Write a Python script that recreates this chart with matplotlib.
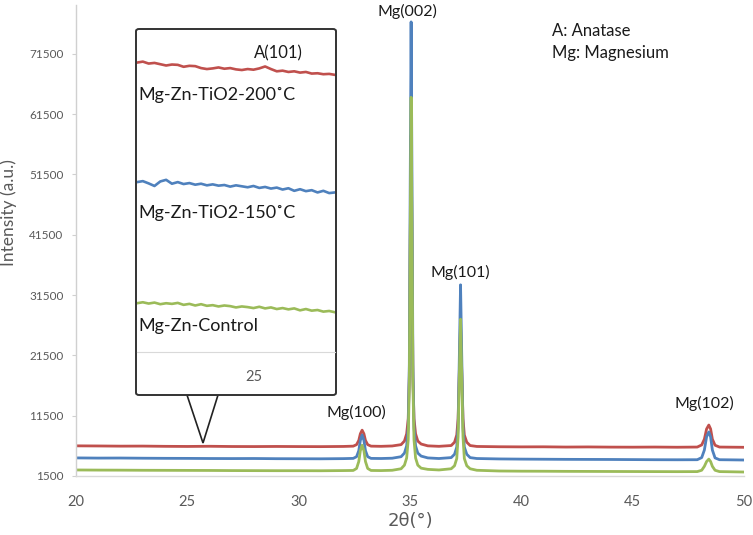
import matplotlib
matplotlib.use("Agg")
import matplotlib.pyplot as plt
from matplotlib.patches import FancyBboxPatch, Polygon

plt.rcParams['font.family'] = ['Lato', 'DejaVu Sans']

# ---------------- data ----------------
two_theta = [20, 21, 22, 23, 24, 25, 26, 27, 28, 29, 30, 31, 32,
             32.45, 32.6, 32.7, 32.77, 32.85, 32.93, 33.0, 33.1, 33.25,
             33.7, 34.2,
             34.6, 34.75, 34.85, 34.92, 34.97, 35.01, 35.05, 35.09, 35.13, 35.18, 35.25, 35.35, 35.5, 35.8,
             36.3,
             36.85, 37.0, 37.1, 37.16, 37.21, 37.27, 37.33, 37.38, 37.44, 37.55, 37.7, 38.0,
             39, 40, 41, 42, 43, 44, 45, 46, 47,
             47.9, 48.1, 48.22, 48.32, 48.42, 48.5, 48.58, 48.7, 48.9,
             49.4, 50]

red_200C = [6500, 6480, 6450, 6460, 6420, 6400, 6430, 6390, 6380, 6400, 6380, 6370, 6400,
            6450, 6700, 7400, 8500, 9100, 8500, 7400, 6700, 6450,
            6420, 6480,
            6700, 7300, 8500, 11000, 18000, 40000, 58000, 40000, 18000, 11000, 8500, 7300, 6800, 6500,
            6420,
            6550, 7100, 8300, 11000, 18000, 26500, 18000, 11000, 8300, 7100, 6550, 6400,
            6350, 6330, 6340, 6300, 6320, 6290, 6280, 6300, 6270,
            6300, 6650, 7600, 9300, 9950, 9300, 7600, 6600, 6300,
            6280, 6260]

blue_150C = [4500, 4470, 4480, 4450, 4430, 4420, 4400, 4390, 4400, 4370, 4360, 4350, 4380,
             4420, 4700, 5700, 7400, 8300, 7400, 5700, 4700, 4420,
             4400, 4450,
             4700, 5300, 6500, 9500, 20000, 50000, 76800, 50000, 20000, 9500, 6500, 5300, 4800, 4500,
             4400,
             4550, 5100, 6300, 9500, 20000, 33200, 20000, 9500, 6300, 5100, 4550, 4400,
             4330, 4300, 4280, 4260, 4250, 4240, 4220, 4200, 4190,
             4200, 4550, 5800, 8000, 8800, 8000, 5800, 4500, 4200,
             4180, 4150]

green_control = [2500, 2480, 2470, 2450, 2440, 2430, 2420, 2400, 2390, 2380, 2380, 2370, 2400,
                 2420, 2750, 3900, 5700, 6600, 5700, 3900, 2750, 2420,
                 2400, 2450,
                 2700, 3300, 4500, 7500, 17000, 42000, 64300, 42000, 17000, 7500, 4500, 3300, 2800, 2600,
                 2500,
                 2700, 3200, 4400, 8000, 17000, 27500, 17000, 8000, 4400, 3200, 2700, 2450,
                 2330, 2300, 2290, 2270, 2260, 2250, 2240, 2230, 2220,
                 2230, 2450, 3100, 3900, 4300, 3900, 3100, 2450, 2230,
                 2200, 2160]

y_ticks = [1500, 11500, 21500, 31500, 41500, 51500, 61500, 71500]
x_ticks = [20, 25, 30, 35, 40, 45, 50]

# inset (zoom near the anatase A(101) position, arbitrary offset units)
inset_theta = [24.00, 24.05, 24.10, 24.15, 24.20, 24.25, 24.30, 24.35, 24.40, 24.45,
               24.50, 24.55, 24.60, 24.65, 24.70, 24.75, 24.80, 24.85, 24.90, 24.95,
               25.00, 25.05, 25.10, 25.15, 25.20, 25.25, 25.30, 25.35, 25.40, 25.45,
               25.50, 25.55, 25.60, 25.65, 25.70]
inset_red = [89.6, 89.9, 89.3, 89.5, 89.1, 88.7, 89.0, 88.9, 88.3, 88.6,
             88.5, 87.9, 87.6, 87.8, 88.1, 87.7, 87.9, 87.5, 87.3, 87.6,
             87.4, 87.8, 88.4, 87.6, 86.9, 87.1, 86.7, 86.9, 86.5, 86.7,
             86.2, 86.3, 86.0, 86.1, 85.8]
inset_blue = [52.6, 52.9, 52.2, 51.4, 52.8, 53.3, 52.1, 52.6, 52.0, 52.3,
              51.8, 52.1, 51.6, 51.9, 51.5, 51.7, 51.2, 51.6, 51.3, 51.0,
              51.4, 50.8, 51.1, 50.6, 50.9, 50.3, 50.7, 49.9, 50.4, 49.8,
              50.1, 49.4, 49.9, 49.2, 49.4]
inset_green = [15.1, 15.4, 15.0, 15.3, 14.8, 15.1, 14.9, 15.2, 14.6, 14.9,
               14.4, 14.8, 14.3, 14.5, 14.1, 14.4, 14.2, 13.8, 14.1, 13.9,
               13.6, 14.0, 13.5, 13.8, 13.3, 13.6, 13.2, 13.5, 12.9, 13.3,
               12.8, 13.0, 12.5, 12.7, 12.3]
inset_ticks = [25]

series_labels = ['Mg-Zn-TiO2-200˚C', 'Mg-Zn-TiO2-150˚C', 'Mg-Zn-Control']
peak_labels = ['Mg(100)', 'Mg(002)', 'Mg(101)', 'Mg(102)']
peak_label_pos = [(32.6, 12100), (34.9, 78500), (37.26, 35300), (48.2, 13600)]

RED, BLUE, GREEN = '#C0504D', '#4F81BD', '#9BBB59'
GRAY = '#595959'

W, H = 753, 535
fig = plt.figure(figsize=(W / 100, H / 100), dpi=100)

def fx(px):
    return px / W

def fy(py):
    return 1 - py / H

# ---------------- main axes ----------------
ax_w = (744 - 76)
ax = fig.add_axes([fx(76), fy(476), ax_w / W, (476 - 5) / H])
ax.plot(two_theta, red_200C, color=RED, lw=2.0, solid_joinstyle='round')
ax.plot(two_theta, blue_150C, color=BLUE, lw=2.0, solid_joinstyle='round')
ax.plot(two_theta, green_control, color=GREEN, lw=2.0, solid_joinstyle='round')
ax.set_xlim(20, 50)
ax.set_ylim(1500, 79600)
ax.set_yticks(y_ticks)
ax.set_yticklabels([str(v) for v in y_ticks])
ax.set_xticks(x_ticks)
ax.set_xticklabels([str(v) for v in x_ticks])
for s in ['top', 'right']:
    ax.spines[s].set_visible(False)
ax.spines['left'].set_color('#D0D0D0')
ax.spines['bottom'].set_color('#D9D9D9')
ax.spines['left'].set_linewidth(1.0)
ax.spines['bottom'].set_linewidth(1.0)
ax.tick_params(axis='y', colors='#D0D0D0', labelcolor=GRAY, labelsize=8.5, length=3, pad=6)
ax.tick_params(axis='x', length=0, labelcolor=GRAY, labelsize=10.5, pad=14)
ax.set_ylabel('Intensity (a.u.)', color=GRAY, fontsize=12.5)
ax.yaxis.set_label_coords((17 - 76) / ax_w, 0.56)
ax.set_xlabel('2θ(°)', color=GRAY, fontsize=13, labelpad=2, family=['DejaVu Sans'])

for lab, (px_, py_) in zip(peak_labels, peak_label_pos):
    ax.text(px_, py_, lab, ha='center', va='center', fontsize=11.5, color='#1a1a1a', clip_on=False)

fig.text(fx(552), fy(31), 'A: Anatase', ha='left', va='center', fontsize=12, color='#1a1a1a')
fig.text(fx(552), fy(53), 'Mg: Magnesium', ha='left', va='center', fontsize=12, color='#1a1a1a')

# ---------------- inset ----------------
box = FancyBboxPatch((fx(136), fy(395)), (336 - 136) / W, (395 - 29) / H,
                     boxstyle='round,pad=0,rounding_size=0.004',
                     transform=fig.transFigure, facecolor='white',
                     edgecolor='#333333', lw=1.4, zorder=5)
fig.patches.append(box)

tri = Polygon([(fx(187), fy(395)), (fx(218), fy(395)), (fx(203), fy(443))],
              closed=True, transform=fig.transFigure, facecolor='white',
              edgecolor='#222222', lw=1.2, zorder=4)
fig.patches.append(tri)

iax = fig.add_axes([fx(137), fy(352), (335 - 137) / W, (352 - 29) / H], zorder=6)
iax.patch.set_alpha(0)
iax.plot(inset_theta, inset_red, color=RED, lw=1.9)
iax.plot(inset_theta, inset_blue, color=BLUE, lw=1.9)
iax.plot(inset_theta, inset_green, color=GREEN, lw=1.9)
iax.set_xlim(24.0, 25.7)
iax.set_ylim(0, 100)
iax.set_yticks([])
iax.set_xticks(inset_ticks)
iax.set_xticklabels([str(v) for v in inset_ticks])
iax.tick_params(axis='x', length=0, labelcolor=GRAY, labelsize=10.5, pad=13)
for s in ['top', 'right', 'left']:
    iax.spines[s].set_visible(False)
iax.spines['bottom'].set_color('#D9D9D9')

fig.text(fx(278), fy(53), 'A(101)', ha='center', va='center', fontsize=12, color='#1a1a1a', zorder=7)
for lab, py_ in zip(series_labels, [95, 213, 326]):
    fig.text(fx(138), fy(py_), lab, ha='left', va='center', fontsize=13, color='#1a1a1a', zorder=7)

fig.savefig('out.png', dpi=100)
